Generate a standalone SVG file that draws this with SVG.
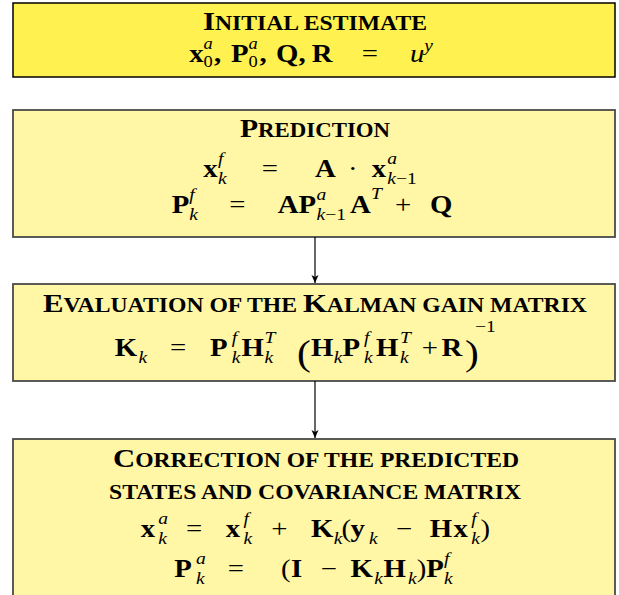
<svg xmlns="http://www.w3.org/2000/svg" width="619" height="595" viewBox="0 0 619 595">
<defs>
<style>
.box1{fill:#FFF14F;stroke:#000;stroke-width:1.5}
.box{fill:#FFF6A6;stroke:#4a4a4a;stroke-width:1.8}
.t{font-family:"Liberation Serif","Times New Roman",serif;font-weight:bold;fill:#000}
.cap{font-size:26px}
.sc{font-size:20px}
.b{font-family:"Liberation Serif",serif;font-weight:bold;font-size:25px}
.r{font-family:"Liberation Serif",serif;font-size:25px}
.mi{font-family:"Liberation Serif",serif;font-style:italic;font-size:25px}
.s{font-family:"Liberation Serif",serif;font-style:italic;font-size:17px}
.sr{font-family:"Liberation Serif",serif;font-size:17px}
.s1{font-size:16px}
.big{font-family:"Liberation Serif",serif;font-size:36px}
.conn{stroke:#000;stroke-width:1.2;fill:none}
</style>
<marker id="ah" markerWidth="10" markerHeight="10" refX="9" refY="5" orient="auto" markerUnits="userSpaceOnUse">
<path d="M1,1.5 L9,5 L1,8.5 L3,5 z" fill="#000"/>
</marker>
</defs>

<g id="initial">
<rect class="box1" x="13" y="3" width="602" height="74"/>
<text class="t" x="315" y="29.5" text-anchor="middle" textLength="224" lengthAdjust="spacingAndGlyphs"><tspan class="cap">I</tspan><tspan class="sc">NITIAL ESTIMATE</tspan></text>
<g transform="scale(1.15 1)">
<text class="b" x="164.6" y="62">x</text>
<text class="s s1" x="177" y="49">a</text>
<text class="sr s1" x="177" y="67.5">0</text>
<text class="b" x="186.1" y="62">,</text>
<text class="b" x="200.9" y="62">P</text>
<text class="s s1" x="216.2" y="49">a</text>
<text class="sr s1" x="216.2" y="67.5">0</text>
<text class="b" x="225.7" y="62">,</text>
<text class="b" x="240" y="62">Q</text>
<text class="b" x="259.5" y="62">,</text>
<text class="b" x="271" y="62">R</text>
<text class="r" x="314.5" y="62">=</text>
<text class="mi" x="356.5" y="62">u</text>
<text class="s" x="369" y="51">y</text>
</g>
</g>

<g id="prediction">
<rect class="box" x="13" y="110" width="602" height="127"/>
<text class="t" x="315" y="137" text-anchor="middle" textLength="150" lengthAdjust="spacingAndGlyphs"><tspan class="cap">P</tspan><tspan class="sc">REDICTION</tspan></text>
<g transform="scale(1.15 1)">
<text class="b" x="176.8" y="177">x</text>
<text class="s" x="189.6" y="164">f</text>
<text class="s" x="189.6" y="184">k</text>
<text class="r" x="227.6" y="177">=</text>
<text class="b" x="273.9" y="177">A</text>
<text class="r" x="306.7" y="177" text-anchor="middle">·</text>
<text class="b" x="323.2" y="177">x</text>
<text class="s" x="336.8" y="164">a</text>
<text class="sr" x="336.8" y="184"><tspan font-style="italic">k</tspan>−1</text>
<text class="b" x="149.3" y="213">P</text>
<text class="s" x="164.6" y="200">f</text>
<text class="s" x="164.6" y="220">k</text>
<text class="r" x="199.4" y="213">=</text>
<text class="b" x="241.5" y="213">AP</text>
<text class="s" x="275.2" y="200">a</text>
<text class="sr" x="275.2" y="220"><tspan font-style="italic">k</tspan>−1</text>
<text class="b" x="304.3" y="213">A</text>
<text class="s" x="322.6" y="199">T</text>
<text class="r" x="343.5" y="213">+</text>
<text class="b" x="373.9" y="213">Q</text>
</g>
</g>

<g id="kalman-gain">
<rect class="box" x="13" y="284" width="602" height="97"/>
<text class="t" x="315" y="312" text-anchor="middle" textLength="544" lengthAdjust="spacingAndGlyphs"><tspan class="cap">E</tspan><tspan class="sc">VALUATION OF THE </tspan><tspan class="cap">K</tspan><tspan class="sc">ALMAN GAIN MATRIX</tspan></text>
<g transform="scale(1.15 1)">
<text class="b" x="99.9" y="356">K</text>
<text class="s" x="120.5" y="363">k</text>
<text class="r" x="147.8" y="356">=</text>
<text class="b" x="182.6" y="356">P</text>
<text class="s" x="201.5" y="343">f</text>
<text class="s" x="201.5" y="363">k</text>
<text class="b" x="210.1" y="356">H</text>
<text class="s" x="230.1" y="343">T</text>
<text class="s" x="230.1" y="363">k</text>
<text class="big" x="258.3" y="365">(</text>
<text class="b" x="270.4" y="356">H</text>
<text class="s" x="290.2" y="363">k</text>
<text class="b" x="297.9" y="356">P</text>
<text class="s" x="316.5" y="343">f</text>
<text class="s" x="316.5" y="363">k</text>
<text class="b" x="327" y="356">H</text>
<text class="s" x="347.8" y="343">T</text>
<text class="s" x="347.8" y="363">k</text>
<text class="r" x="366.8" y="356">+</text>
<text class="b" x="384" y="356">R</text>
<text class="big" x="404.3" y="365">)</text>
<text class="sr" x="413" y="332">−1</text>
</g>
</g>

<g id="correction">
<rect class="box" x="13" y="439" width="602" height="170"/>
<text class="t" x="316" y="467" text-anchor="middle" textLength="406" lengthAdjust="spacingAndGlyphs"><tspan class="cap">C</tspan><tspan class="sc">ORRECTION OF THE PREDICTED</tspan></text>
<text class="t" x="315" y="499" text-anchor="middle" textLength="412" lengthAdjust="spacingAndGlyphs"><tspan class="sc">STATES AND COVARIANCE MATRIX</tspan></text>
<g transform="scale(1.15 1)">
<text class="b" x="122.3" y="537">x</text>
<text class="s" x="137.7" y="524">a</text>
<text class="s" x="137.7" y="544">k</text>
<text class="r" x="161.7" y="537">=</text>
<text class="b" x="196.3" y="537">x</text>
<text class="s" x="211.8" y="524">f</text>
<text class="s" x="211.8" y="544">k</text>
<text class="r" x="235.9" y="537">+</text>
<text class="b" x="270.4" y="537">K</text>
<text class="s" x="290.2" y="544">k</text>
<text class="r" x="296.9" y="537">(</text>
<text class="b" x="304.8" y="537">y</text>
<text class="s" x="320.9" y="544">k</text>
<text class="r" x="344.3" y="537">−</text>
<text class="b" x="373.7" y="537">H</text>
<text class="b" x="394.3" y="537">x</text>
<text class="s" x="409.8" y="524">f</text>
<text class="s" x="409.8" y="544">k</text>
<text class="r" x="417.8" y="537">)</text>
<text class="b" x="151.6" y="577">P</text>
<text class="s" x="170.4" y="564">a</text>
<text class="s" x="170.4" y="584">k</text>
<text class="r" x="198" y="577">=</text>
<text class="r" x="244.3" y="577">(</text>
<text class="b" x="253" y="577">I</text>
<text class="r" x="279" y="577">−</text>
<text class="b" x="304.8" y="577">K</text>
<text class="s" x="325.5" y="584">k</text>
<text class="b" x="333.4" y="577">H</text>
<text class="s" x="354.8" y="584">k</text>
<text class="r" x="362.3" y="577">)</text>
<text class="b" x="370.7" y="577">P</text>
<text class="s" x="386.1" y="564">f</text>
<text class="s" x="386.1" y="584">k</text>
</g>
</g>

<g id="connectors">
<line class="conn" x1="315" y1="237" x2="315" y2="283" marker-end="url(#ah)"/>
<line class="conn" x1="315" y1="381" x2="315" y2="438" marker-end="url(#ah)"/>
</g>
</svg>
